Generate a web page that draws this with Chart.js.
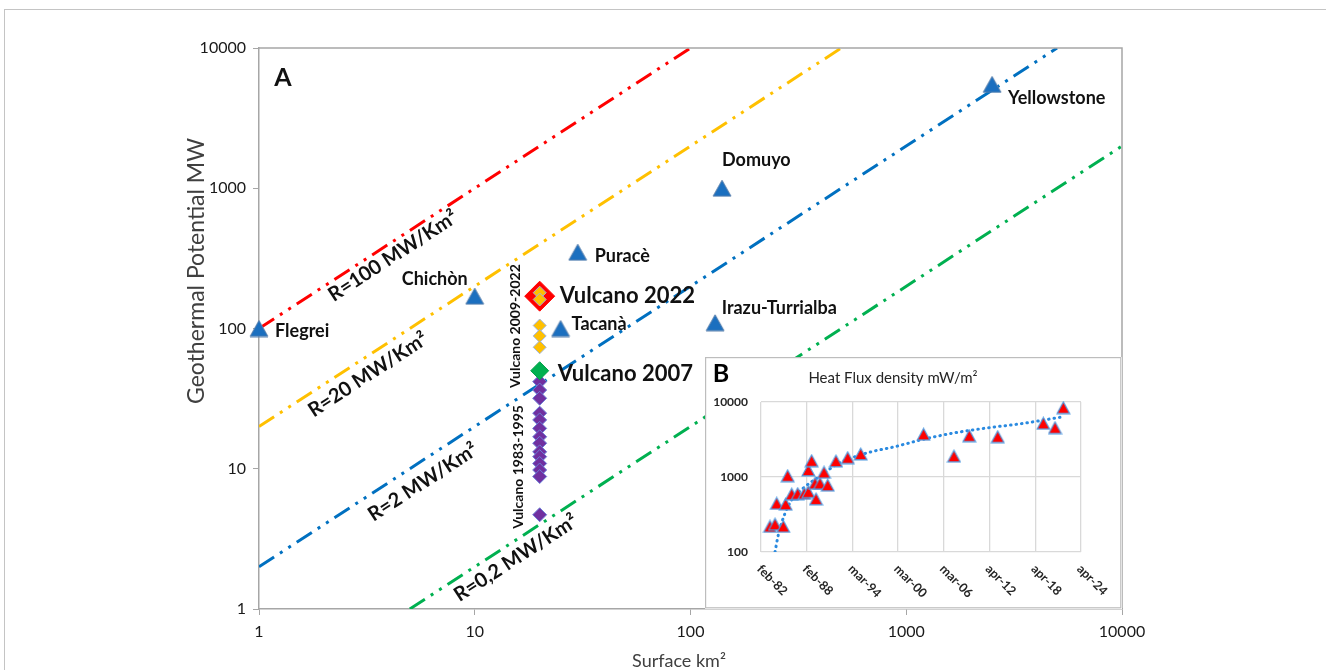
<!DOCTYPE html>
<html><head><meta charset="utf-8">
<script src="https://cdn.jsdelivr.net/npm/chart.js@4.4.0/dist/chart.umd.min.js"></script>
<style>
html,body{margin:0;padding:0;background:#fff;}
#wrap{position:relative;width:1326px;height:670px;overflow:hidden;background:#fff;}
#frame{position:absolute;left:4px;top:9px;width:1400px;height:800px;border-left:1px solid #c4c4c4;border-top:1px solid #c4c4c4;}
#main{position:absolute;left:0;top:0;}
#inset{position:absolute;left:705px;top:357px;}
</style></head><body>
<div id="wrap">
<div id="frame"></div>
<canvas id="main" width="1326" height="670"></canvas>
<canvas id="inset" width="417" height="252"></canvas>
</div>
<script>
Chart.defaults.font.family = "Lato, 'Open Sans', sans-serif";
Chart.defaults.color = '#262626';

// ---------- main chart data ----------
const surfaceTicks = [1, 10, 100, 1000, 10000];
const potentialTicks = [1, 10, 100, 1000, 10000];

const volcanoNames = ['Flegrei', 'Chichòn', 'Puracè', 'Tacanà', 'Domuyo', 'Irazu-Turrialba', 'Yellowstone'];
const volcanoSurface = [1, 10, 30, 25, 140, 130, 2500];
const volcanoPotential = [100, 170, 350, 100, 1000, 110, 5500];

const vulcanoSurface = 20;
const vulcano1983to1995 = [41.8, 36.4, 31.8, 24.9, 22.3, 19.4, 16.9, 15.2, 13.2, 12.2, 10.9, 9.8, 8.8, 4.7];
const vulcano2009to2022 = [180, 161, 105, 88.5, 73.5];
const vulcano2007 = [50];
const vulcano2022 = [170];

const ratioNames = ['R=100 MW/Km²', 'R=20 MW/Km²', 'R=2 MW/Km²', 'R=0,2 MW/Km²'];
const ratioSurfaceFrom = [1, 1, 1, 5];
const ratioSurfaceTo = [100, 500, 5000, 10000];
const ratioPotentialFrom = [100, 20, 2, 1];
const ratioPotentialTo = [10000, 10000, 10000, 2000];
const ratioColors = ['#ff0000', '#ffc000', '#0070c0', '#00b050'];

// ---------- inset data ----------
const insetTickYears = [1982.1, 1988.1, 1994.1, 2000.1, 2006.1, 2012.1, 2018.1, 2024.1];
const insetTickLabels = ['feb-82', 'feb-88', 'mar-94', 'mar-00', 'mar-06', 'apr-12', 'apr-18', 'apr-24'];
const insetFluxTicks = [100, 1000, 10000];
const insetYear = [1983.28, 1983.94, 1985.03, 1984.16, 1985.34, 1985.60, 1986.13, 1986.92, 1987.78, 1988.31, 1988.31, 1988.75, 1989.32, 1989.19, 1989.84, 1990.37, 1990.86, 1991.94, 1993.48, 1995.19, 2003.44, 2007.43, 2009.44, 2013.17, 2019.16, 2020.69, 2021.78];
const insetFlux = [220, 235, 220, 445, 435, 1040, 590, 600, 605, 635, 1240, 1650, 510, 825, 825, 1155, 780, 1635, 1810, 2030, 3720, 1900, 3550, 3450, 5200, 4550, 8400];
const trendYear = [1983.94, 1984.37, 1985.25, 1986.13, 1987.88, 1990.07, 1992.25, 1994.44, 1996.63, 1999.7, 2003.4, 2007.5, 2011.9, 2016.3, 2021.8];
const trendFlux = [100, 169, 328, 494, 743, 1064, 1523, 1866, 2175, 2540, 3180, 3880, 4530, 5150, 6370];

// ---------- label layout (pixel offsets) ----------
const volcanoLabelLayout = [
  {dx: 16, dy: 2.5, align: 'left'},
  {dx: -7, dy: -17, align: 'right'},
  {dx: 17, dy: 4, align: 'left'},
  {dx: 11, dy: -4.5, align: 'left'},
  {dx: 0, dy: -28, align: 'left'},
  {dx: 6.6, dy: -14.4, align: 'left'},
  {dx: 16, dy: 13.6, align: 'left'}
];
const ratioLabelLayout = [{at: 4.18, dy: 14.6}, {at: 3.2, dy: 19}, {at: 5.75, dy: 22}, {at: 15.5, dy: 18}];

function triangleImage(w, h, fill, stroke, lw) {
  const c = document.createElement('canvas');
  c.width = Math.ceil(w + 2 * lw); c.height = Math.ceil(h + 2 * lw);
  const g = c.getContext('2d');
  g.beginPath();
  g.moveTo(c.width / 2, lw);
  g.lineTo(c.width - lw, c.height - lw);
  g.lineTo(lw, c.height - lw);
  g.closePath();
  g.fillStyle = fill; g.fill();
  g.strokeStyle = stroke; g.lineWidth = lw; g.stroke();
  return c;
}
const bigTriangle = triangleImage(18, 16, '#1b6fbf', '#5d82ad', 1);
const smallTriangle = triangleImage(12, 11, '#ff0000', '#4f9ae0', 1.2);

function pts(xs, ys) { return ys.map((v, i) => ({x: Array.isArray(xs) ? xs[i] : xs, y: v})); }

const dashPattern = [18, 7, 3, 7, 3, 7];
const datasets = [];
ratioNames.forEach((n, i) => {
  datasets.push({
    label: n, showLine: true, pointRadius: 0, borderWidth: 3,
    borderColor: ratioColors[i], borderDash: dashPattern, order: 10,
    data: [{x: ratioSurfaceFrom[i], y: ratioPotentialFrom[i]}, {x: ratioSurfaceTo[i], y: ratioPotentialTo[i]}]
  });
});
datasets.push({label: 'Vulcano 1983-1995', data: pts(vulcanoSurface, vulcano1983to1995), pointStyle: 'rectRot', pointRadius: 7, backgroundColor: '#7030a0', borderColor: '#6b7fd7', borderWidth: 1, order: 6, clip: false});
datasets.push({label: 'Vulcano 2007', data: pts(vulcanoSurface, vulcano2007), pointStyle: 'rectRot', pointRadius: 9, backgroundColor: '#00b050', borderColor: '#00a048', borderWidth: 1, order: 5, clip: false});
datasets.push({label: 'Vulcano 2022', data: pts(vulcanoSurface, vulcano2022), pointStyle: 'rectRot', pointRadius: 15, backgroundColor: '#ff0000', borderColor: '#ff0000', borderWidth: 1, order: 4, clip: false});
datasets.push({label: 'Vulcano 2009-2022', data: pts(vulcanoSurface, vulcano2009to2022), pointStyle: 'rectRot', pointRadius: 6.5, backgroundColor: '#ffc000', borderColor: '#9db4e0', borderWidth: 1, order: 3, clip: false});
datasets.push({label: 'Volcanoes', data: pts(volcanoSurface, volcanoPotential), pointStyle: bigTriangle, pointRadius: 9, order: 1, clip: false});

function setTicks(arr) { return function (scale) { scale.ticks = arr.map(v => ({value: v})); }; }

const mainDecor = {
  id: 'mainDecor',
  afterDatasetsDraw(chart) {
    const {ctx, chartArea: a, scales: {x, y}} = chart;
    ctx.save();
    ctx.strokeStyle = '#a6a6a6'; ctx.lineWidth = 1.5;
    ctx.beginPath(); ctx.moveTo(a.left, a.top); ctx.lineTo(a.right, a.top); ctx.lineTo(a.right, a.bottom); ctx.stroke();

    ctx.fillStyle = '#111';
    ctx.textBaseline = 'middle';
    ctx.font = 'bold 25px Lato'; ctx.textAlign = 'center';
    ctx.fillText('A', a.left + 24, a.top + 30);

    ctx.font = 'bold 18px Lato';
    volcanoNames.forEach((n, i) => {
      const L = volcanoLabelLayout[i];
      ctx.textAlign = L.align;
      ctx.fillText(n, x.getPixelForValue(volcanoSurface[i]) + L.dx, y.getPixelForValue(volcanoPotential[i]) + L.dy);
    });
    const vx = x.getPixelForValue(vulcanoSurface);
    ctx.font = 'bold 22px Lato'; ctx.textAlign = 'left';
    ctx.fillText('Vulcano 2022', vx + 20, y.getPixelForValue(vulcano2022[0]));
    ctx.fillText('Vulcano 2007', vx + 18, y.getPixelForValue(vulcano2007[0]) + 3.5);
    ctx.font = 'bold 14px Lato'; ctx.textAlign = 'center';
    [['Vulcano 2009-2022', 104, -24], ['Vulcano 1983-1995', 10.3, -21]].forEach(([t, v, dx]) => {
      ctx.save(); ctx.translate(vx + dx, y.getPixelForValue(v)); ctx.rotate(-Math.PI / 2); ctx.fillText(t, 0, 0); ctx.restore();
    });
    ctx.font = 'bold 20px Lato'; ctx.textAlign = 'center';
    ratioNames.forEach((n, i) => {
      const x1 = x.getPixelForValue(ratioSurfaceFrom[i]), y1 = y.getPixelForValue(ratioPotentialFrom[i]);
      const x2 = x.getPixelForValue(ratioSurfaceTo[i]), y2 = y.getPixelForValue(ratioPotentialTo[i]);
      const ang = Math.atan2(y2 - y1, x2 - x1);
      const px = x.getPixelForValue(ratioLabelLayout[i].at);
      const py = y1 + (px - x1) * (y2 - y1) / (x2 - x1) + ratioLabelLayout[i].dy;
      ctx.save(); ctx.translate(px, py); ctx.rotate(ang); ctx.fillText(n, 0, 0); ctx.restore();
    });
    ctx.restore();
  },
  afterDraw(chart) {
    const {ctx} = chart;
    ctx.save();
    ctx.fillStyle = '#404040'; ctx.textAlign = 'center'; ctx.textBaseline = 'middle';
    ctx.font = '18px Lato';
    ctx.fillText('Surface km²', 679, 661);
    ctx.font = '23px Lato';
    ctx.translate(197, 271); ctx.rotate(-Math.PI / 2);
    ctx.fillText('Geothermal Potential MW', 0, 0);
    ctx.restore();
  }
};

new Chart(document.getElementById('main'), {
  type: 'scatter',
  data: {datasets},
  options: {
    responsive: false, animation: false, events: [],
    layout: {padding: {left: 0, right: 204, top: 48, bottom: 0}},
    plugins: {legend: {display: false}, tooltip: {enabled: false}},
    scales: {
      x: {
        type: 'logarithmic', min: 1, max: 10000,
        afterBuildTicks: setTicks(surfaceTicks),
        afterFit(s) { s.height = 61; },
        ticks: {font: {size: 16}, color: '#1a1a1a', padding: 7, maxRotation: 0, autoSkip: false, callback: v => String(v)},
        grid: {drawOnChartArea: false, drawTicks: true, tickLength: 6, color: '#a6a6a6'},
        border: {display: true, color: '#a6a6a6', width: 1.5}
      },
      y: {
        type: 'logarithmic', min: 1, max: 10000,
        afterBuildTicks: setTicks(potentialTicks),
        afterFit(s) { s.width = 259; },
        ticks: {font: {size: 16}, color: '#1a1a1a', padding: 7, autoSkip: false, callback: v => String(v)},
        grid: {drawOnChartArea: false, drawTicks: true, tickLength: 6, color: '#a6a6a6'},
        border: {display: true, color: '#a6a6a6', width: 1.5}
      }
    }
  },
  plugins: [mainDecor]
});

// ---------- inset ----------
const insetDecor = {
  id: 'insetDecor',
  beforeDraw(chart) {
    const c = chart.ctx; c.save(); c.fillStyle = '#fff'; c.fillRect(0, 0, chart.width, chart.height); c.restore();
  },
  afterDraw(chart) {
    const {ctx, chartArea: a, scales: {x}} = chart;
    ctx.save();
    ctx.strokeStyle = '#bdbdbd'; ctx.lineWidth = 1.2;
    ctx.strokeRect(0.6, 0.6, chart.width - 1.8, chart.height - 1.8);
    ctx.fillStyle = '#000'; ctx.textAlign = 'center'; ctx.textBaseline = 'middle';
    ctx.font = 'bold 25px Lato';
    ctx.fillText('B', 16, 17);
    ctx.fillStyle = '#262626'; ctx.textAlign = 'left'; ctx.font = 'bold 12.5px Lato';
    insetTickYears.forEach((v, i) => {
      const px = x.getPixelForValue(v);
      ctx.save(); ctx.translate(px - 2, a.bottom + 15); ctx.rotate(Math.PI / 4); ctx.fillText(insetTickLabels[i], 0, 0); ctx.restore();
    });
    ctx.restore();
  }
};

new Chart(document.getElementById('inset'), {
  type: 'scatter',
  data: {
    datasets: [
      {label: 'trend', data: pts(trendYear, trendFlux), showLine: true, pointRadius: 0, borderColor: '#2a8ae0', borderWidth: 3, borderDash: [0.5, 5], borderCapStyle: 'round', cubicInterpolationMode: 'monotone', order: 2},
      {label: 'Heat flux', data: pts(insetYear, insetFlux), pointStyle: smallTriangle, pointRadius: 6, order: 1, clip: false}
    ]
  },
  options: {
    responsive: false, animation: false, events: [],
    layout: {padding: {left: 0, right: 41, top: 2, bottom: 0}},
    plugins: {
      legend: {display: false}, tooltip: {enabled: false},
      title: {display: true, text: 'Heat Flux density mW/m²', font: {size: 15, weight: 'normal'}, color: '#262626', padding: {top: 10, bottom: 15}}
    },
    scales: {
      x: {
        type: 'linear', min: insetTickYears[0], max: insetTickYears[insetTickYears.length - 1],
        afterBuildTicks: setTicks(insetTickYears),
        afterFit(s) { s.height = 57; },
        ticks: {display: false},
        grid: {color: '#d9d9d9', lineWidth: 1.3, drawTicks: false},
        border: {display: false}
      },
      y: {
        type: 'logarithmic', min: 100, max: 10000,
        afterBuildTicks: setTicks(insetFluxTicks),
        afterFit(s) { s.width = 56; },
        ticks: {font: {size: 12, weight: 'bold'}, color: '#262626', padding: 13, callback: v => String(v)},
        grid: {color: '#d9d9d9', lineWidth: 1.3, drawTicks: false},
        border: {display: false}
      }
    }
  },
  plugins: [insetDecor]
});
</script>
</body></html>
